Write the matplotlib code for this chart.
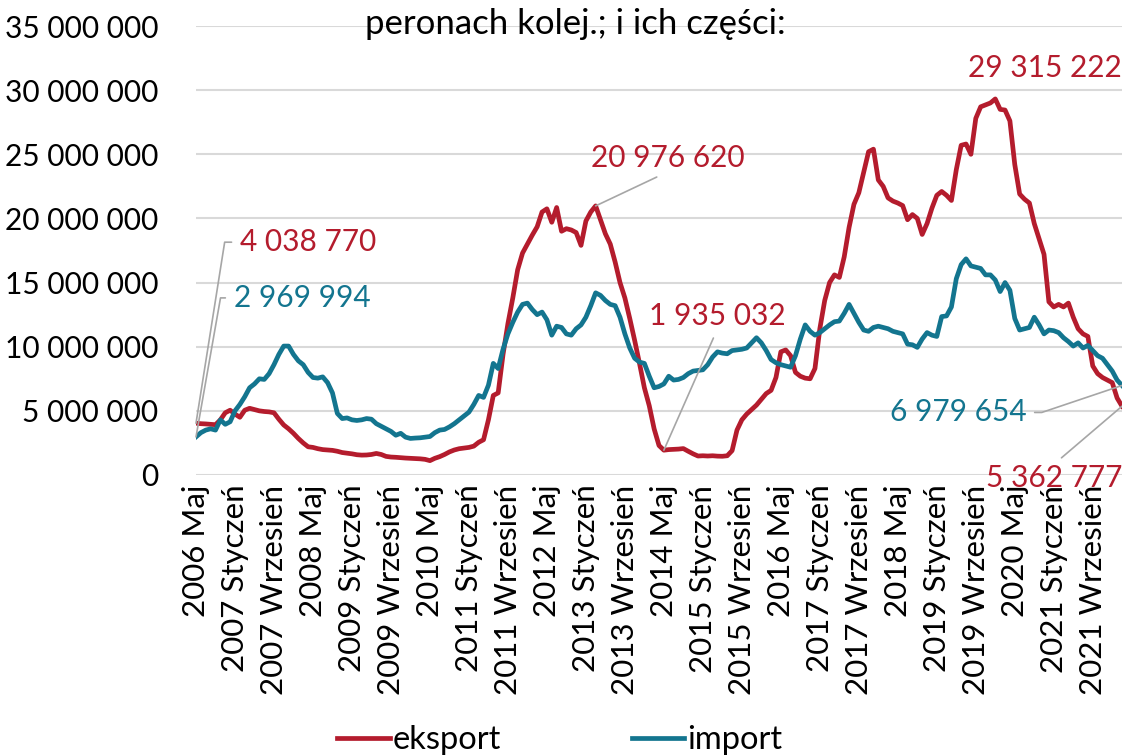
import matplotlib
matplotlib.use('Agg')
import matplotlib.pyplot as plt
import numpy as np

plt.rcParams['font.family'] = ['Lato', 'DejaVu Sans']

# monthly values in millions, 2006 Maj .. 2022 Marzec
eksport = [
    4.03877, 4.00, 3.98, 3.95, 3.92, 4.30, 4.85, 5.05, 4.75, 4.50,
    5.05, 5.20, 5.10, 5.00, 4.95, 4.92, 4.85, 4.35, 3.90, 3.60,
    3.25, 2.85, 2.50, 2.20, 2.15, 2.05, 1.98, 1.95, 1.92, 1.85,
    1.75, 1.70, 1.65, 1.58, 1.55, 1.56, 1.60, 1.68, 1.60, 1.45,
    1.40, 1.38, 1.35, 1.32, 1.30, 1.28, 1.26, 1.22, 1.12, 1.30,
    1.43, 1.60, 1.80, 1.95, 2.05, 2.10, 2.15, 2.25, 2.55, 2.75,
    4.30, 6.20, 6.40, 9.40, 11.8, 13.8, 16.0, 17.3, 18.0, 18.7,
    19.35, 20.5, 20.75, 19.7, 20.85, 19.0, 19.2, 19.1, 18.9, 17.9,
    19.8, 20.5, 20.97662, 19.9, 18.8, 18.0, 16.6, 15.0, 13.8, 12.2,
    10.5, 8.70, 6.80, 5.40, 3.60, 2.30, 1.935032, 1.98, 2.00, 2.02,
    2.06, 1.85, 1.65, 1.48, 1.50, 1.48, 1.50, 1.47, 1.46, 1.50,
    1.90, 3.50, 4.30, 4.75, 5.10, 5.45, 5.90, 6.35, 6.60, 7.60,
    9.60, 9.75, 9.30, 8.00, 7.70, 7.55, 7.50, 8.30, 11.4, 13.6,
    15.0, 15.6, 15.4, 17.0, 19.3, 21.1, 22.0, 23.6, 25.2, 25.4,
    23.0, 22.5, 21.6, 21.35, 21.2, 21.0, 19.9, 20.3, 20.0, 18.75,
    19.6, 20.8, 21.8, 22.1, 21.8, 21.4, 23.8, 25.7, 25.8, 25.0,
    27.8, 28.7, 28.85, 29.0, 29.315222, 28.5, 28.45, 27.6, 24.2, 21.9,
    21.5, 21.2, 19.6, 18.4, 17.2, 13.5, 13.1, 13.3, 13.1, 13.4,
    12.3, 11.4, 11.0, 10.8, 8.50, 7.90, 7.60, 7.40, 7.20, 6.00,
    5.362777,
]
import_ = [
    2.969994, 3.30, 3.50, 3.60, 3.50, 4.30, 3.95, 4.15, 5.00, 5.50,
    6.10, 6.80, 7.10, 7.50, 7.45, 7.90, 8.60, 9.40, 10.05, 10.05,
    9.40, 8.90, 8.60, 8.00, 7.60, 7.55, 7.65, 7.20, 6.40, 4.80,
    4.40, 4.45, 4.30, 4.25, 4.30, 4.40, 4.35, 4.00, 3.80, 3.60,
    3.40, 3.10, 3.25, 2.95, 2.85, 2.88, 2.90, 2.95, 3.00, 3.30,
    3.50, 3.55, 3.75, 4.00, 4.30, 4.60, 4.90, 5.50, 6.20, 6.05,
    7.00, 8.70, 8.30, 9.80, 11.0, 11.9, 12.7, 13.3, 13.4, 12.9,
    12.5, 12.7, 12.1, 10.9, 11.6, 11.5, 11.0, 10.9, 11.4, 11.7,
    12.3, 13.2, 14.2, 14.0, 13.6, 13.3, 13.2, 12.3, 11.0, 9.90,
    9.10, 8.80, 8.70, 7.70, 6.80, 6.90, 7.10, 7.70, 7.40, 7.45,
    7.60, 7.90, 8.10, 8.15, 8.20, 8.60, 9.20, 9.60, 9.50, 9.45,
    9.70, 9.75, 9.80, 9.90, 10.3, 10.7, 10.3, 9.70, 9.00, 8.75,
    8.60, 8.50, 8.40, 9.30, 10.6, 11.7, 11.2, 10.9, 11.1, 11.4,
    11.7, 11.95, 12.0, 12.6, 13.3, 12.6, 11.9, 11.3, 11.2, 11.5,
    11.6, 11.5, 11.4, 11.2, 11.1, 11.0, 10.2, 10.15, 9.95, 10.6,
    11.1, 10.9, 10.8, 12.35, 12.4, 13.1, 15.3, 16.4, 16.85, 16.3,
    16.2, 16.1, 15.6, 15.6, 15.2, 14.3, 15.0, 14.4, 12.2, 11.3,
    11.4, 11.5, 12.3, 11.7, 11.0, 11.3, 11.25, 11.1, 10.7, 10.4,
    10.05, 10.3, 9.90, 10.1, 9.70, 9.30, 9.10, 8.60, 8.10, 7.40,
    6.979654,
]

tick_labels = [
    '2006 Maj', '2007 Styczeń', '2007 Wrzesień', '2008 Maj', '2009 Styczeń',
    '2009 Wrzesień', '2010 Maj', '2011 Styczeń', '2011 Wrzesień', '2012 Maj',
    '2013 Styczeń', '2013 Wrzesień', '2014 Maj', '2015 Styczeń', '2015 Wrzesień',
    '2016 Maj', '2017 Styczeń', '2017 Wrzesień', '2018 Maj', '2019 Styczeń',
    '2019 Wrzesień', '2020 Maj', '2021 Styczeń', '2021 Wrzesień',
]
tick_step = 8

# months that carry a data label (2013 Marzec, 2014 Maj)
peak_2013 = 82
low_2014 = 96

RED = '#b41c2d'
BLUE = '#13758f'
GRAY = '#a6a6a6'
FS = 23.5      # words
FS_NUM = 21.5  # numbers (Lato digits are wider than the original's)

exp = np.array(eksport) * 1e6
imp = np.array(import_) * 1e6
x = np.arange(len(exp))


def fmt(v):
    return f'{int(round(v)):,}'.replace(',', ' ')


fig = plt.figure(figsize=(11.22, 7.55), dpi=100)
ax = fig.add_axes([196 / 1122, 1 - 475 / 755, 926 / 1122, 449 / 755])

ax.plot(x, exp, color=RED, lw=3.4, label='eksport', solid_joinstyle='round')
ax.plot(x, imp, color=BLUE, lw=3.4, label='import', solid_joinstyle='round')

ax.set_xlim(0, len(x) - 1)
ax.set_ylim(0, 35e6)
yt = np.arange(0, 35e6 + 1, 5e6)
ax.set_yticks(yt)
ax.set_yticklabels([fmt(v) for v in yt], fontsize=FS_NUM)
ax.set_xticks(np.arange(len(tick_labels)) * tick_step)
ax.set_xticklabels(tick_labels, rotation=90, fontsize=22.5, va='top', ha='center')
ax.tick_params(axis='both', length=0)
ax.tick_params(axis='y', pad=27)
ax.tick_params(axis='x', pad=7)
ax.grid(axis='y', color='#d9d9d9', lw=1.5)
ax.set_axisbelow(True)
for s in ax.spines.values():
    s.set_visible(False)


def label(i, vals, text_off, color, relpos=None, conn=None):
    kw = dict(xy=(i, vals[i]), xytext=text_off, textcoords='offset pixels',
              fontsize=FS_NUM, color=color, ha='center', va='center')
    if relpos is not None:
        kw['arrowprops'] = dict(arrowstyle='-', color=GRAY, lw=1.2, relpos=relpos,
                                shrinkA=4, shrinkB=0,
                                connectionstyle=conn or 'arc3')
    ax.annotate(fmt(vals[i]), **kw)


last = len(x) - 1
label(0, exp, (112, 181), RED, (0, 0.5), 'angle,angleA=0,angleB=81,rad=0')
label(0, imp, (106, 139), BLUE, (0, 0.5), 'angle,angleA=0,angleB=80,rad=0')
label(peak_2013, exp, (72, 48), RED, (0.5, 0))
label(low_2014, exp, (53, 134), RED, (0.5, 0))
label(int(np.argmax(exp)), exp, (50, 31), RED)
label(last, imp, (-164, -27), BLUE, (1, 0.5), 'angle,angleA=0,angleB=18.6,rad=0')
label(last, exp, (-68, -72), RED, (0.5, 1))

fig.text(575 / 1122, 1 - 24 / 755, 'peronach kolej.; i ich części:',
         fontsize=25, ha='center', va='center')

fig.legend(loc='center', bbox_to_anchor=(560 / 1122, 1 - 740 / 755), ncol=2,
           frameon=False, fontsize=FS, handlelength=1.6, handletextpad=0.1,
           columnspacing=4.0)

fig.savefig('out.png', dpi=100)
